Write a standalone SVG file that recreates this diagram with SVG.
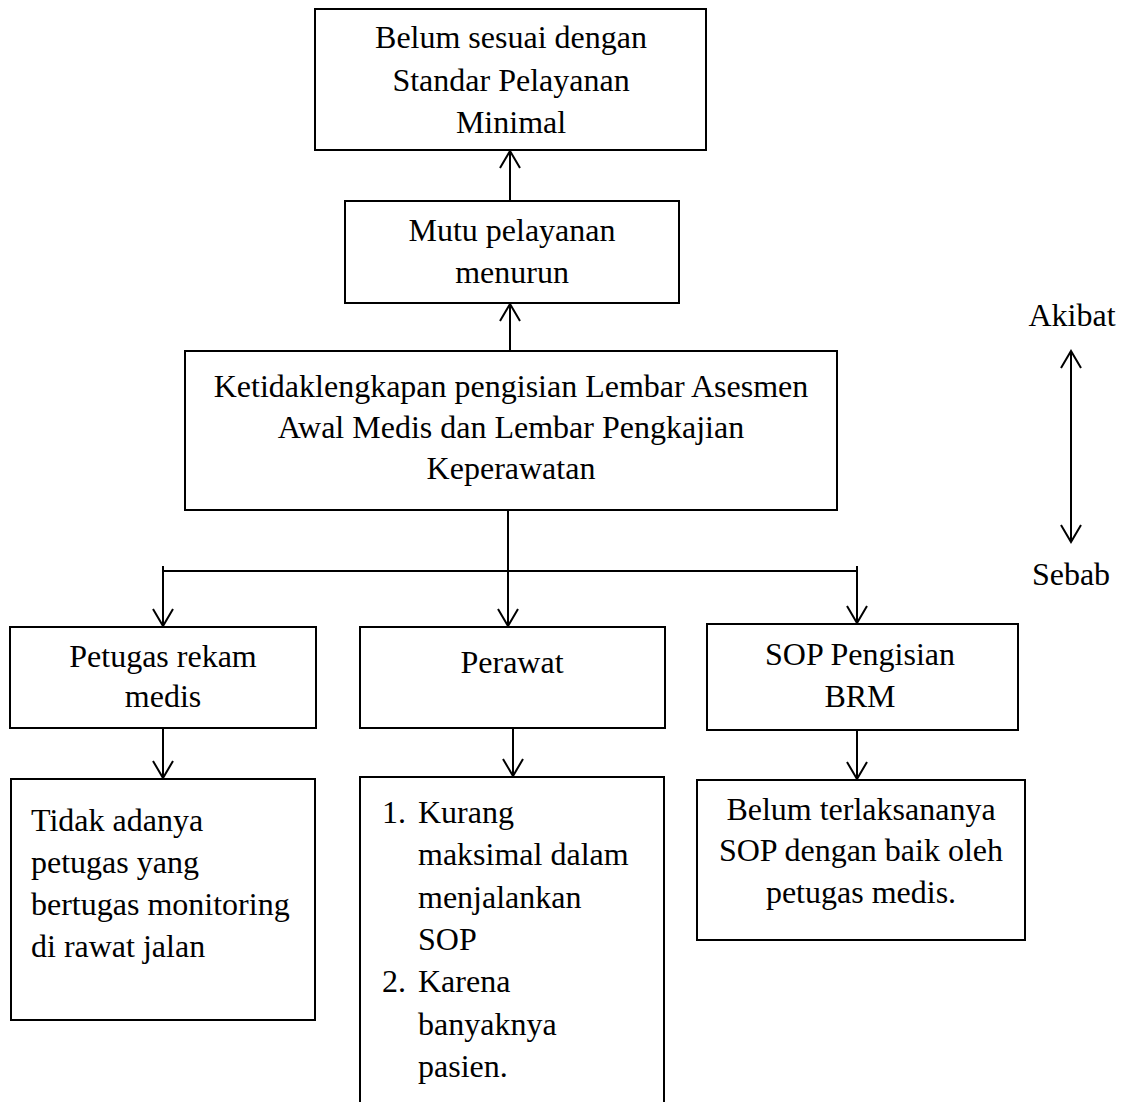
<svg xmlns="http://www.w3.org/2000/svg" width="1127" height="1102" viewBox="0 0 1127 1102">
<style>
.box{fill:#fff;stroke:#000;stroke-width:2}
.t{font-family:"Liberation Serif","Times New Roman",serif;font-size:32px;fill:#000}
.c{text-anchor:middle}
.ln{stroke:#000;stroke-width:2;fill:none}
</style>
<defs>
<marker id="ah" markerUnits="userSpaceOnUse" markerWidth="40" markerHeight="40" refX="0" refY="0" orient="auto" viewBox="-20 -20 40 40" overflow="visible">
<path d="M-17,-10 L0,0 L-17,10" fill="none" stroke="#000" stroke-width="2"/>
</marker>
</defs>
<rect width="1127" height="1102" fill="#fff"/>
<g id="connectors">
<line class="ln" x1="510" y1="201" x2="510" y2="151" marker-end="url(#ah)"/>
<line class="ln" x1="510" y1="351" x2="510" y2="304" marker-end="url(#ah)"/>
<line class="ln" x1="508" y1="510" x2="508" y2="626" marker-end="url(#ah)"/>
<line class="ln" x1="163" y1="571" x2="857" y2="571"/>
<line class="ln" x1="163" y1="566" x2="163" y2="626" marker-end="url(#ah)"/>
<line class="ln" x1="857" y1="566" x2="857" y2="623" marker-end="url(#ah)"/>
<line class="ln" x1="163" y1="728" x2="163" y2="778" marker-end="url(#ah)"/>
<line class="ln" x1="513" y1="728" x2="513" y2="776" marker-end="url(#ah)"/>
<line class="ln" x1="857" y1="730" x2="857" y2="779" marker-end="url(#ah)"/>
<line class="ln" x1="1071" y1="447" x2="1071" y2="351" marker-end="url(#ah)"/>
<line class="ln" x1="1071" y1="447" x2="1071" y2="542" marker-end="url(#ah)"/>
</g>
<g id="n-belum-sesuai">
<rect class="box" x="315" y="9" width="391" height="141"/>
<text class="t c" x="511" y="48">Belum sesuai dengan</text>
<text class="t c" x="511" y="91">Standar Pelayanan</text>
<text class="t c" x="511" y="133">Minimal</text>
</g>
<g id="n-mutu">
<rect class="box" x="345" y="201" width="334" height="102"/>
<text class="t c" x="512" y="241">Mutu pelayanan</text>
<text class="t c" x="512" y="283">menurun</text>
</g>
<g id="n-ketidaklengkapan">
<rect class="box" x="185" y="351" width="652" height="159"/>
<text class="t c" x="511" y="397">Ketidaklengkapan pengisian Lembar Asesmen</text>
<text class="t c" x="511" y="438">Awal Medis dan Lembar Pengkajian</text>
<text class="t c" x="511" y="479">Keperawatan</text>
</g>
<g id="n-petugas">
<rect class="box" x="10" y="627" width="306" height="101"/>
<text class="t c" x="163" y="667">Petugas rekam</text>
<text class="t c" x="163" y="707">medis</text>
</g>
<g id="n-perawat">
<rect class="box" x="360" y="627" width="305" height="101"/>
<text class="t c" x="512" y="673">Perawat</text>
</g>
<g id="n-sop">
<rect class="box" x="707" y="624" width="311" height="106"/>
<text class="t c" x="860" y="665">SOP Pengisian</text>
<text class="t c" x="860" y="707">BRM</text>
</g>
<g id="n-tidak-adanya">
<rect class="box" x="11" y="779" width="304" height="241"/>
<text class="t" x="31" y="831">Tidak adanya</text>
<text class="t" x="31" y="873">petugas yang</text>
<text class="t" x="31" y="915">bertugas monitoring</text>
<text class="t" x="31" y="957">di rawat jalan</text>
</g>
<g id="n-kurang">
<path class="box" d="M360,1110 L360,777 L664,777 L664,1110"/>
<text class="t" x="382" y="823">1.</text>
<text class="t" x="418" y="823">Kurang</text>
<text class="t" x="418" y="865">maksimal dalam</text>
<text class="t" x="418" y="908">menjalankan</text>
<text class="t" x="418" y="950">SOP</text>
<text class="t" x="382" y="992">2.</text>
<text class="t" x="418" y="992">Karena</text>
<text class="t" x="418" y="1035">banyaknya</text>
<text class="t" x="418" y="1077">pasien.</text>
</g>
<g id="n-belum-terlaksana">
<rect class="box" x="697" y="780" width="328" height="160"/>
<text class="t c" x="861" y="820">Belum terlaksananya</text>
<text class="t c" x="861" y="861">SOP dengan baik oleh</text>
<text class="t c" x="861" y="903">petugas medis.</text>
</g>
<g id="legend">
<text class="t c" x="1072" y="326">Akibat</text>
<text class="t c" x="1071" y="585">Sebab</text>
</g>
</svg>
